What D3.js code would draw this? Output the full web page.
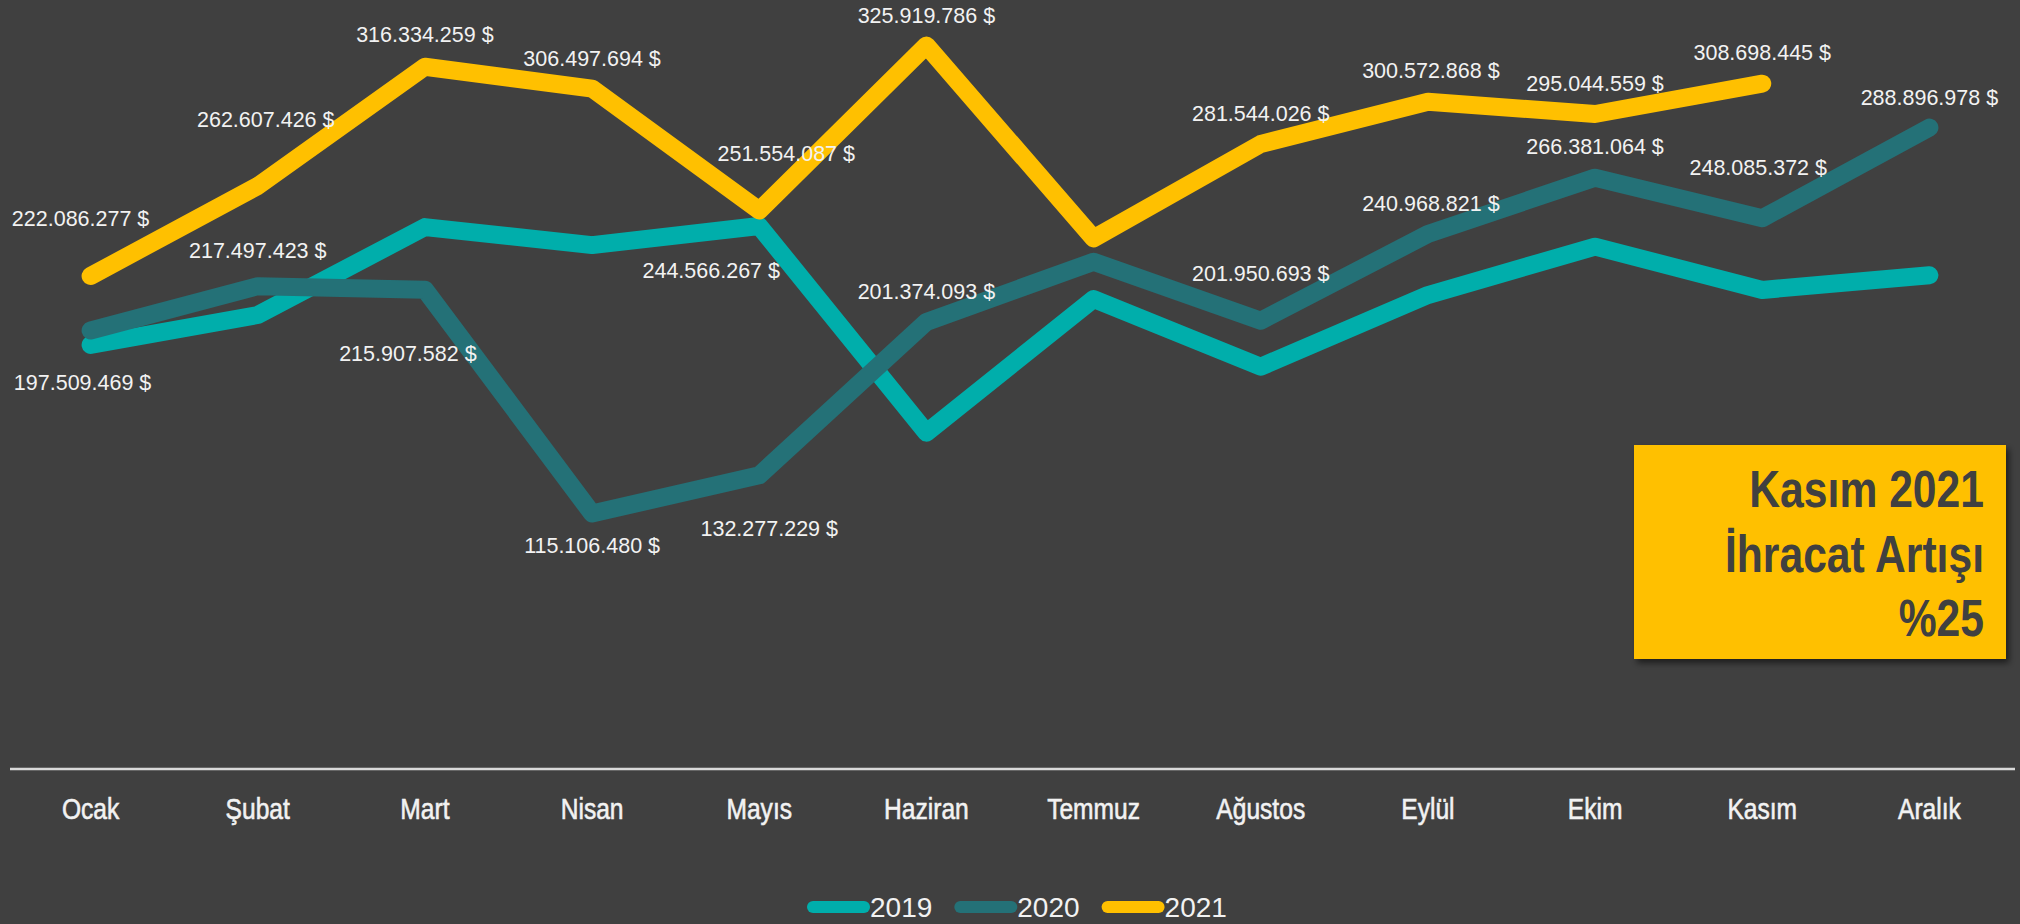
<!DOCTYPE html>
<html>
<head>
<meta charset="utf-8">
<script src="https://cdn.jsdelivr.net/npm/d3@7"></script>
<style>
  html, body { margin: 0; padding: 0; background: #404040; }
  svg { display: block; }
  .data-label { font-family: "Liberation Sans", Arial, sans-serif; font-size: 21.5px; fill: #f2f2f2; }
  .month-label { font-family: "Liberation Sans", Arial, sans-serif; font-size: 30px; fill: #f2f2f2; stroke: #f2f2f2; stroke-width: 0.6px; }
  .legend-label { font-family: "Liberation Sans", Arial, sans-serif; font-size: 28px; fill: #f2f2f2; }
  .box-text { font-family: "Liberation Sans", Arial, sans-serif; font-size: 52px; font-weight: bold; fill: #404040; }
</style>
</head>
<body>
<div id="chart"></div>
<script>
const width = 2020;
const height = 924;

const months = ["Ocak", "Şubat", "Mart", "Nisan", "Mayıs", "Haziran",
  "Temmuz", "Ağustos", "Eylül", "Ekim", "Kasım", "Aralık"];

const years = ["2019", "2020", "2021"];

const exports2019 = [191000000, 204500000, 244100000, 236000000, 244566267, 151500000,
  211700000, 181200000, 213500000, 235300000, 215800000, 222400000];
const exports2020 = [197509469, 217497423, 215907582, 115106480, 132277229, 201374093,
  228500000, 201950693, 240968821, 266381064, 248085372, 288896978];
const exports2021 = [222086277, 262607426, 316334259, 306497694, 251554087, 325919786,
  239000000, 281544026, 300572868, 295044559, 308698445, null];

const boxLines = ["Kasım 2021", "İhracat Artışı", "%25"];

// layout only: which points carry a label and where it sits ([dx, dy] from the point)
const labelPlacement = {
  "2019": { 4: [-48, 44] },
  "2020": { 0: [-8, 52], 1: [0, -36], 2: [-17, 64], 3: [0, 32], 4: [10, 53], 5: [0, -31],
            7: [0, -47], 8: [3, -31], 9: [0, -31], 10: [-4, -51], 11: [0, -30] },
  "2021": { 0: [-10, -58], 1: [8, -67], 2: [0, -32], 3: [0, -30], 4: [27, -57], 5: [0, -30],
            7: [0, -31], 8: [3, -31], 9: [0, -31], 10: [0, -31] },
};

const colors = { "2019": "#00aeab", "2020": "#247177", "2021": "#ffc000" };

const series = [
  { year: "2019", values: exports2019 },
  { year: "2020", values: exports2020 },
  { year: "2021", values: exports2021 },
];

const axisY = 769;
const narrow = 0.82; // squeeze to mimic a narrow face

const xScale = d3.scaleBand().domain(months).range([7, 2013]);
const xPos = (m) => xScale(m) + xScale.bandwidth() / 2;

const yScale = d3.scaleLinear().domain([0, 350000000]).range([axisY, axisY - 350 * 2.22]);

const fmt = d3.formatLocale({ decimal: ",", thousands: ".", grouping: [3], currency: ["", " $"] });
const labelFormat = (v) => fmt.format(",")(v) + " $";

const svg = d3
  .select("#chart")
  .append("svg")
  .attr("width", width)
  .attr("height", height);

const defs = svg.append("defs");
defs
  .append("filter")
  .attr("id", "shadow")
  .attr("x", "-10%").attr("y", "-10%").attr("width", "130%").attr("height", "130%")
  .append("feDropShadow")
  .attr("dx", 3)
  .attr("dy", 4)
  .attr("stdDeviation", 3)
  .attr("flood-color", "#000")
  .attr("flood-opacity", 0.55);

svg.append("rect").attr("width", width).attr("height", height).attr("fill", "#404040");

// x axis line
svg
  .append("line")
  .attr("x1", 10)
  .attr("x2", 2015)
  .attr("y1", axisY)
  .attr("y2", axisY)
  .attr("stroke", "#d9d9d9")
  .attr("stroke-width", 2.5);

svg
  .append("g")
  .selectAll("text")
  .data(months)
  .join("text")
  .attr("class", "month-label")
  .attr("transform", (d) => `translate(${xPos(d)}, 819) scale(${narrow}, 1)`)
  .attr("text-anchor", "middle")
  .text((d) => d);

// lines
const line = d3
  .line()
  .defined((d) => d.value != null)
  .x((d) => xPos(d.month))
  .y((d) => yScale(d.value));

const lineGroup = svg.append("g");
lineGroup
  .selectAll("path")
  .data(series)
  .join("path")
  .attr("d", (s) => line(s.values.map((v, i) => ({ month: months[i], value: v }))))
  .attr("fill", "none")
  .attr("stroke", (s) => colors[s.year])
  .attr("stroke-width", 18)
  .attr("stroke-linecap", "round")
  .attr("stroke-linejoin", "round");

// data labels
const labelData = [];
series.forEach((s) => {
  s.values.forEach((v, i) => {
    const p = labelPlacement[s.year][i];
    if (v != null && p) {
      labelData.push({ month: months[i], value: v, dx: p[0], dy: p[1] });
    }
  });
});

svg
  .append("g")
  .selectAll("text")
  .data(labelData)
  .join("text")
  .attr("class", "data-label")
  .attr("x", (d) => xPos(d.month) + d.dx)
  .attr("y", (d) => yScale(d.value) + d.dy)
  .attr("dy", "0.36em")
  .attr("text-anchor", "middle")
  .text((d) => labelFormat(d.value));

// annotation box
const box = svg.append("g");
box
  .append("rect")
  .attr("x", 1634)
  .attr("y", 445)
  .attr("width", 372)
  .attr("height", 214)
  .attr("fill", "#ffc000")
  .attr("filter", "url(#shadow)");

box
  .selectAll("text")
  .data(boxLines)
  .join("text")
  .attr("class", "box-text")
  .attr("transform", (d, i) => `translate(1984, ${507 + i * 64.5}) scale(${narrow}, 1)`)
  .attr("text-anchor", "end")
  .text((d) => d);

// legend
const legend = svg.append("g");
let legendX = 807;
years.forEach((y) => {
  legend
    .append("line")
    .attr("x1", legendX + 6)
    .attr("x2", legendX + 57)
    .attr("y1", 907)
    .attr("y2", 907)
    .attr("stroke", colors[y])
    .attr("stroke-width", 12)
    .attr("stroke-linecap", "round");
  const t = legend
    .append("text")
    .attr("class", "legend-label")
    .attr("x", legendX + 63)
    .attr("y", 917)
    .text(y);
  legendX += 63 + t.node().getComputedTextLength() + 22;
});
</script>
</body>
</html>
